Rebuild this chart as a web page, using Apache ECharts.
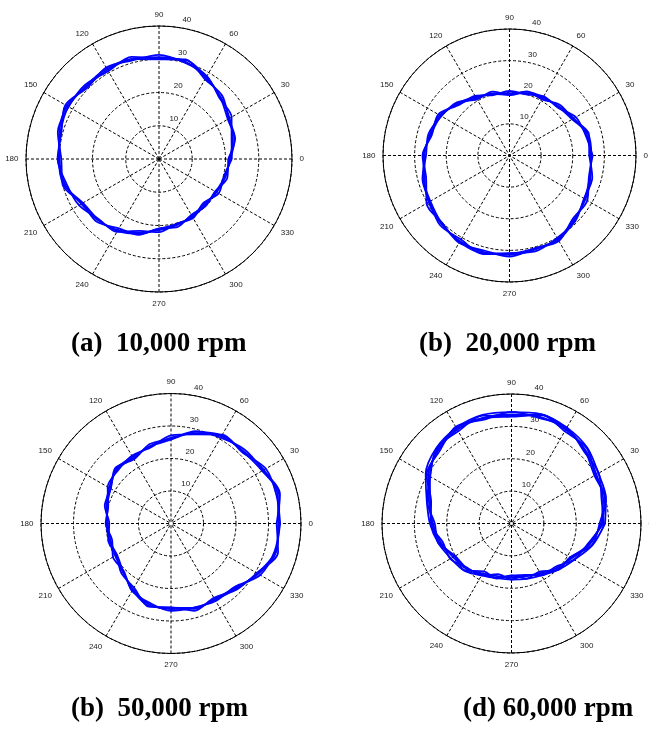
<!DOCTYPE html>
<html>
<head>
<meta charset="utf-8">
<script src="https://cdn.jsdelivr.net/npm/echarts@6/dist/echarts.min.js"></script>
<style>
html,body{margin:0;padding:0;background:#fff;}
#chart{width:649px;height:729px;}
</style>
</head>
<body>
<div id="chart"></div>
<script>
// ---- data ----
const angles = [0,15,30,45,60,75,90,105,120,135,150,165,180,195,210,225,240,255,270,285,300,315,330,345];
const angleTicks = [0,30,60,90,120,150,180,210,240,270,300,330];
const radiusTicks = [10,20,30,40];
const captions = ['(a)  10,000 rpm', '(b)  20,000 rpm', '(b)  50,000 rpm', '(d) 60,000 rpm'];

const loopsA1 = [21.3,23.0,24.5,26.3,28.2,30.3,30.6,31.2,31.0,30.8,32.0,31.0,29.9,29.3,27.0,26.0,24.7,22.9,21.4,20.6,19.8,19.2,20.0,20.7];
const loopsA2 = [21.9,22.6,25.2,25.8,28.8,30.0,31.3,30.7,31.8,30.4,32.5,30.4,30.5,28.8,27.8,25.6,25.3,22.4,22.0,20.2,20.5,18.8,20.7,20.2];
const loopsA3 = [20.8,23.7,24.2,26.9,27.7,31.0,30.2,31.8,30.5,31.5,31.4,31.5,29.4,30.0,26.6,26.6,24.1,23.6,20.9,21.2,19.4,19.9,19.5,21.3];
const loopsA4 = [21.5,23.5,23.9,26.1,28.5,30.8,30.0,31.1,31.4,31.1,31.5,30.7,30.1,29.7,26.4,25.8,25.0,23.3,21.0,20.3,20.1,19.6,19.7,20.5];

const loopsB1 = [25.7,25.3,23.5,22.0,21.0,20.3,19.7,20.3,21.0,23.0,25.5,26.0,26.9,27.8,29.5,30.5,31.3,31.6,31.4,30.8,30.5,28.7,27.7,26.5];
const loopsB2 = [26.3,24.9,24.2,21.5,21.6,20.0,20.4,19.8,21.8,22.6,26.0,25.4,27.5,27.3,30.3,30.1,31.9,31.1,32.0,30.4,31.2,28.3,28.4,26.0];
const loopsB3 = [25.2,26.0,23.2,22.6,20.5,21.0,19.3,20.9,20.5,23.7,24.9,26.5,26.4,28.5,29.1,31.1,30.7,32.3,30.9,31.4,30.1,29.4,27.2,27.1];
const loopsB4 = [25.9,25.8,22.9,21.8,21.3,20.8,19.1,20.2,21.4,23.3,25.0,25.7,27.1,28.2,28.9,30.3,31.6,32.0,31.0,30.5,30.8,29.1,27.4,26.3];

const loopsC1 = [33.0,34.0,33.0,31.5,31.0,28.7,26.4,24.7,23.3,23.5,22.0,20.6,19.5,19.3,19.8,21.0,23.4,25.8,26.3,27.2,26.8,28.0,31.0,33.5];
const loopsC2 = [33.6,33.6,33.7,31.0,31.6,28.4,27.1,24.2,24.1,23.1,22.5,20.0,20.1,18.8,20.6,20.6,24.0,25.3,26.9,26.8,27.5,27.6,31.7,33.0];
const loopsC3 = [32.5,34.7,32.7,32.1,30.5,29.4,26.0,25.3,22.8,24.2,21.4,21.1,19.0,20.0,19.4,21.6,22.8,26.5,25.8,27.8,26.4,28.7,30.5,34.1];
const loopsC4 = [33.2,34.5,32.4,31.3,31.3,29.2,25.8,24.6,23.7,23.8,21.5,20.3,19.7,19.7,19.2,20.8,23.7,26.2,25.9,26.9,27.1,28.4,30.7,33.3];

const loopsD1 = [27.8,29.3,30.3,32.2,33.5,34.1,33.7,33.8,33.5,32.0,29.7,26.4,24.3,22.6,20.8,19.8,17.8,16.8,16.6,16.9,17.7,19.5,21.5,25.0];
const loopsD2 = [28.5,28.8,31.1,31.6,34.2,33.7,34.5,33.2,34.5,31.5,30.3,25.7,25.0,22.0,21.8,19.3,18.5,16.2,17.3,16.4,18.5,19.0,22.3,24.4];
const loopsD3 = [27.2,30.1,29.9,32.9,32.9,34.9,33.2,34.5,32.9,32.8,29.0,27.0,23.7,23.4,20.3,20.5,17.1,17.6,16.0,17.6,17.2,20.3,20.9,25.7];
const loopsD4 = [28.0,29.9,29.6,32.0,33.9,34.7,33.0,33.7,34.0,32.4,29.1,26.0,24.6,23.1,20.1,19.5,18.2,17.3,16.1,16.5,18.1,20.0,21.1,24.8];
const loopsD5 = [28.9,30.2,31.0,33.1,34.2,35.0,34.4,34.7,34.1,32.9,30.6,27.1,25.2,23.4,21.6,20.6,18.5,17.5,17.3,17.7,18.5,20.3,22.4,25.9];

const plotLoops = [
  [loopsA1, loopsA2, loopsA3, loopsA4],
  [loopsB1, loopsB2, loopsB3, loopsB4],
  [loopsC1, loopsC2, loopsC3, loopsC4],
  [loopsD1, loopsD2, loopsD3, loopsD4, loopsD5]
];

// ---- layout ----
const plots = [
  {c:[159,159], r:133, cap:[71,331]},
  {c:[509.5,155.5], r:126.5, cap:[419,331]},
  {c:[171,523.5], r:130, cap:[71,696]},
  {c:[511.5,523.5], r:129.5, cap:[463,696]}
];
const labelOff = [10.5,-7];
const tickFont = {fontFamily:'Liberation Sans, Arial, sans-serif', fontSize:8, color:'#222'};

const polar = [], angleAxis = [], radiusAxis = [], series = [], title = [];
plots.forEach((p,i)=>{
  polar.push({center:p.c, radius:p.r});
  angleAxis.push({
    polarIndex:i, type:'value', min:0, max:360, interval:30, startAngle:0, clockwise:false,
    axisLine:{show:true, lineStyle:{color:'#000', width:1}},
    axisTick:{show:false},
    axisLabel:Object.assign({margin:7.5, formatter:v=> angleTicks.indexOf(v)>=0 ? String(v) : ''}, tickFont),
    splitLine:{show:true, lineStyle:{color:'#000', width:1, type:[3,2]}}
  });
  radiusAxis.push({
    polarIndex:i, type:'value', min:0, max:40, interval:10,
    axisLine:{show:false}, axisTick:{show:false}, axisLabel:{show:false},
    splitLine:{show:true, lineStyle:{color:'#000', width:1, type:[3,2]}}
  });
  plotLoops[i].forEach(loop=>{
    const d = angles.map((a,k)=>[loop[k], a]);
    d.push([loop[0], 360]);
    series.push({
      type:'line', coordinateSystem:'polar', polarIndex:i, data:d,
      symbol:'none', smooth:0.3, silent:true,
      lineStyle:{color:'#0000ff', width:1.8}, z:5
    });
  });
  title.push({
    text:captions[i], left:p.cap[0], top:p.cap[1], padding:0,
    textStyle:{fontFamily:'Liberation Serif, Times New Roman, serif', fontWeight:'bold', fontSize:27, color:'#000'}
  });
});
// label polars for radial tick labels
plots.forEach((p,i)=>{
  const j = plots.length + i;
  polar.push({center:[p.c[0]+labelOff[0], p.c[1]+labelOff[1]], radius:p.r});
  angleAxis.push({polarIndex:j, type:'value', min:0, max:360, startAngle:82.5, clockwise:false, show:false});
  radiusAxis.push({
    polarIndex:j, type:'value', min:0, max:40, interval:10,
    axisLine:{show:false}, axisTick:{show:false}, splitLine:{show:false},
    axisLabel:Object.assign({margin:0, align:'center', verticalAlign:'middle',
      formatter:v=> radiusTicks.indexOf(v)>=0 ? String(v) : ''}, tickFont)
  });
});

const chart = echarts.init(document.getElementById('chart'), null, {renderer:'canvas'});
chart.setOption({
  animation:false,
  backgroundColor:'#fff',
  title, polar, angleAxis, radiusAxis, series
});
</script>
</body>
</html>
